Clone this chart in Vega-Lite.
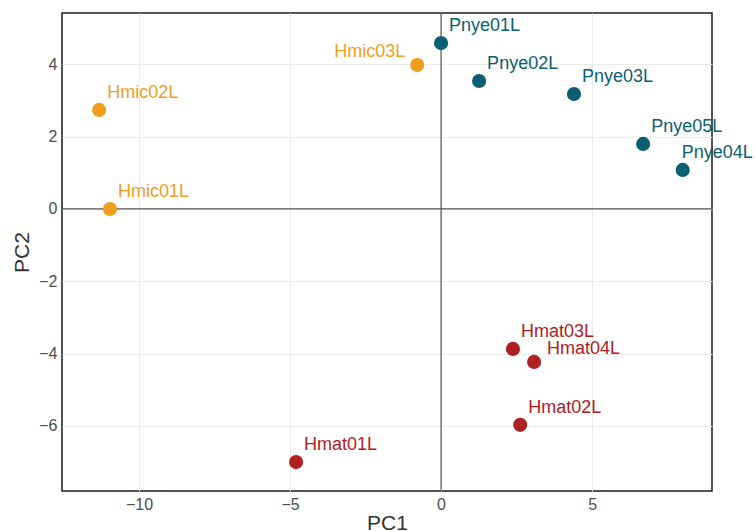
{
  "$schema": "https://vega.github.io/schema/vega-lite/v6.json",
  "autosize": "none",
  "width": 650,
  "height": 478,
  "padding": {"left": 62, "top": 13, "right": 43, "bottom": 40},
  "background": "white",
  "config": {
    "view": {"stroke": "#1a1a1a", "strokeWidth": 1.5},
    "font": "Liberation Sans",
    "axis": {
      "grid": true, "gridColor": "#ebebeb", "gridWidth": 1,
      "ticks": false, "domain": false,
      "labelFont": "Liberation Sans", "labelFontSize": 16, "labelColor": "#4d4d4d",
      "titleFont": "Liberation Sans", "titleFontSize": 21, "titleColor": "#333333", "titleFontWeight": "normal"
    }
  },
  "data": {
    "values": [
      {"sample": "Pnye01L", "group": "Pnye", "PC1": 0.0, "PC2": 4.59},
      {"sample": "Pnye02L", "group": "Pnye", "PC1": 1.26, "PC2": 3.54},
      {"sample": "Pnye03L", "group": "Pnye", "PC1": 4.40, "PC2": 3.18},
      {"sample": "Pnye05L", "group": "Pnye", "PC1": 6.69, "PC2": 1.80},
      {"sample": "Pnye04L", "group": "Pnye", "PC1": 8.0, "PC2": 1.08},
      {"sample": "Hmic03L", "group": "Hmic", "PC1": -0.79, "PC2": 3.98},
      {"sample": "Hmic02L", "group": "Hmic", "PC1": -11.32, "PC2": 2.74},
      {"sample": "Hmic01L", "group": "Hmic", "PC1": -10.96, "PC2": 0.0},
      {"sample": "Hmat03L", "group": "Hmat", "PC1": 2.38, "PC2": -3.87},
      {"sample": "Hmat04L", "group": "Hmat", "PC1": 3.08, "PC2": -4.23},
      {"sample": "Hmat02L", "group": "Hmat", "PC1": 2.62, "PC2": -5.97},
      {"sample": "Hmat01L", "group": "Hmat", "PC1": -4.80, "PC2": -7.0}
    ]
  },
  "encoding": {
    "x": {"field": "PC1", "type": "quantitative",
      "scale": {"domain": [-12.55, 8.97], "nice": false, "zero": false},
      "axis": {"title": "PC1", "values": [-10, -5, 0, 5], "labelPadding": 5, "titlePadding": 0, "labelExpr": "replace(datum.label, '-', '−')"}},
    "y": {"field": "PC2", "type": "quantitative",
      "scale": {"domain": [-7.8, 5.42], "nice": false, "zero": false},
      "axis": {"title": "PC2", "values": [-6, -4, -2, 0, 2, 4], "labelPadding": 5, "titlePadding": 6, "labelExpr": "replace(datum.label, '-', '−')"}},
    "color": {"field": "group", "type": "nominal",
      "scale": {"domain": ["Hmic", "Pnye", "Hmat"], "range": ["#EF9D1F", "#0B5F73", "#AF2023"]},
      "legend": null}
  },
  "layer": [
    {"data": {"values": [{"z": 0}]}, "mark": {"type": "rule", "color": "#555555", "strokeWidth": 1.2},
     "encoding": {"x": {"field": "z", "type": "quantitative"}, "y": null, "color": null}},
    {"data": {"values": [{"z": 0}]}, "mark": {"type": "rule", "color": "#555555", "strokeWidth": 1.2},
     "encoding": {"y": {"field": "z", "type": "quantitative"}, "x": null, "color": null}},
    {"mark": {"type": "circle", "size": 200, "opacity": 1}},
    {"transform": [{"filter": "indexof(['Hmic03L','Hmat04L','Pnye04L'], datum.sample) < 0"}],
     "mark": {"type": "text", "align": "left", "baseline": "middle", "dx": 8, "dy": -17, "fontSize": 18},
     "encoding": {"text": {"field": "sample"}}},
    {"transform": [{"filter": "datum.sample == 'Hmat04L'"}],
     "mark": {"type": "text", "align": "left", "baseline": "middle", "dx": 13, "dy": -13, "fontSize": 18},
     "encoding": {"text": {"field": "sample"}}},
    {"transform": [{"filter": "datum.sample == 'Pnye04L'"}],
     "mark": {"type": "text", "align": "left", "baseline": "middle", "dx": -1, "dy": -17, "fontSize": 18},
     "encoding": {"text": {"field": "sample"}}},
    {"transform": [{"filter": "datum.sample == 'Hmic03L'"}],
     "mark": {"type": "text", "align": "right", "baseline": "middle", "dx": -12, "dy": -13, "fontSize": 18},
     "encoding": {"text": {"field": "sample"}}}
  ]
}
